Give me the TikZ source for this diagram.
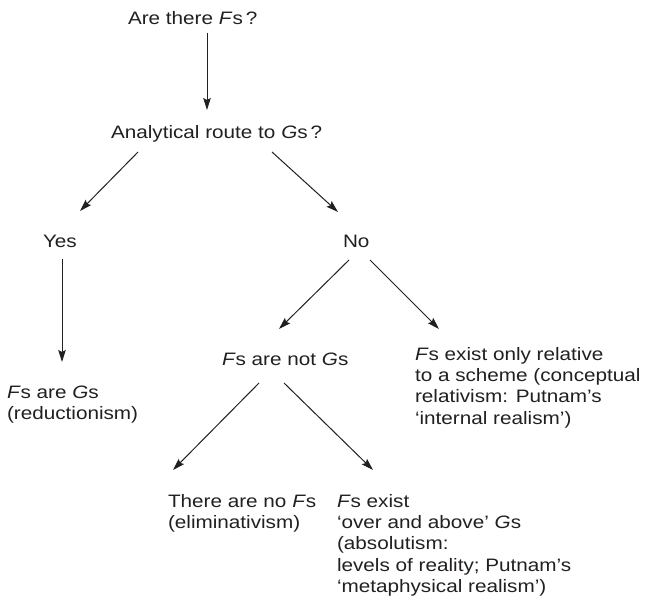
\documentclass[tikz,border=0pt]{standalone}
\usepackage{fontspec}
\setmainfont{Liberation Sans}[FakeStretch=1.15]
\usetikzlibrary{arrows.meta,calc}
\newcommand\txtlines[1]{\begin{tabular}[t]{@{}l@{}}#1\end{tabular}}
\newcommand\itF{\textit{F}}
\newcommand\itG{\textit{G}}
\definecolor{ink}{HTML}{231F20}
\begin{document}
\begin{tikzpicture}[x=1pt,y=-1pt,
  lbl/.style={anchor=base west,inner sep=0pt,outer sep=0pt,text=ink,
    font=\fontsize{18pt}{21.4pt}\selectfont},
  arr/.style={draw=ink,line width=1pt,-{Stealth[length=12pt,width=7.5pt,inset=2pt]}}]
\useasboundingbox (0,0) rectangle (650,609);
\node[lbl] (A) at (128,25) {\txtlines{Are there \itF s\,?}};
\node[lbl] (B) at (111,139) {\txtlines{Analytical route to \itG s\,?}};
\node[lbl] (Y) at (43,248) {\txtlines{Yes}};
\node[lbl] (N) at (343,248) {\txtlines{No}};
\node[lbl] (FG) at (7,398) {\txtlines{\itF s are \itG s\\(reductionism)}};
\node[lbl] (NG) at (222,365) {\txtlines{\itF s are not \itG s}};
\node[lbl] (R) at (415,360) {\txtlines{\itF s exist only relative\\to a scheme (conceptual\\relativism: Putnam’s\\‘internal realism’)}};
\node[lbl] (E) at (168,507) {\txtlines{There are no \itF s\\(eliminativism)}};
\node[lbl] (AB) at (337,507) {\txtlines{\itF s exist\\‘over and above’ \itG s\\(absolutism:\\levels of reality; Putnam’s\\‘metaphysical realism’)}};
\draw[arr] ($(A.base west)+(79,8)$) -- ($(B.base west)+(96,-29)$);
\draw[arr] ($(B.base west)+(27,13)$) -- ($(Y.base west)+(37,-37)$);
\draw[arr] ($(B.base west)+(161,13)$) -- ($(N.base west)+(-5,-36)$);
\draw[arr] ($(Y.base west)+(19,11)$) -- ($(FG.base west)+(55,-36)$);
\draw[arr] ($(N.base west)+(6,12)$) -- ($(NG.base west)+(57,-36)$);
\draw[arr] ($(N.base west)+(27,12)$) -- ($(R.base west)+(24,-31)$);
\draw[arr] ($(NG.base west)+(37,18)$) -- ($(E.base west)+(5,-37)$);
\draw[arr] ($(NG.base west)+(62,18)$) -- ($(AB.base west)+(36,-37)$);
\end{tikzpicture}
\end{document}
